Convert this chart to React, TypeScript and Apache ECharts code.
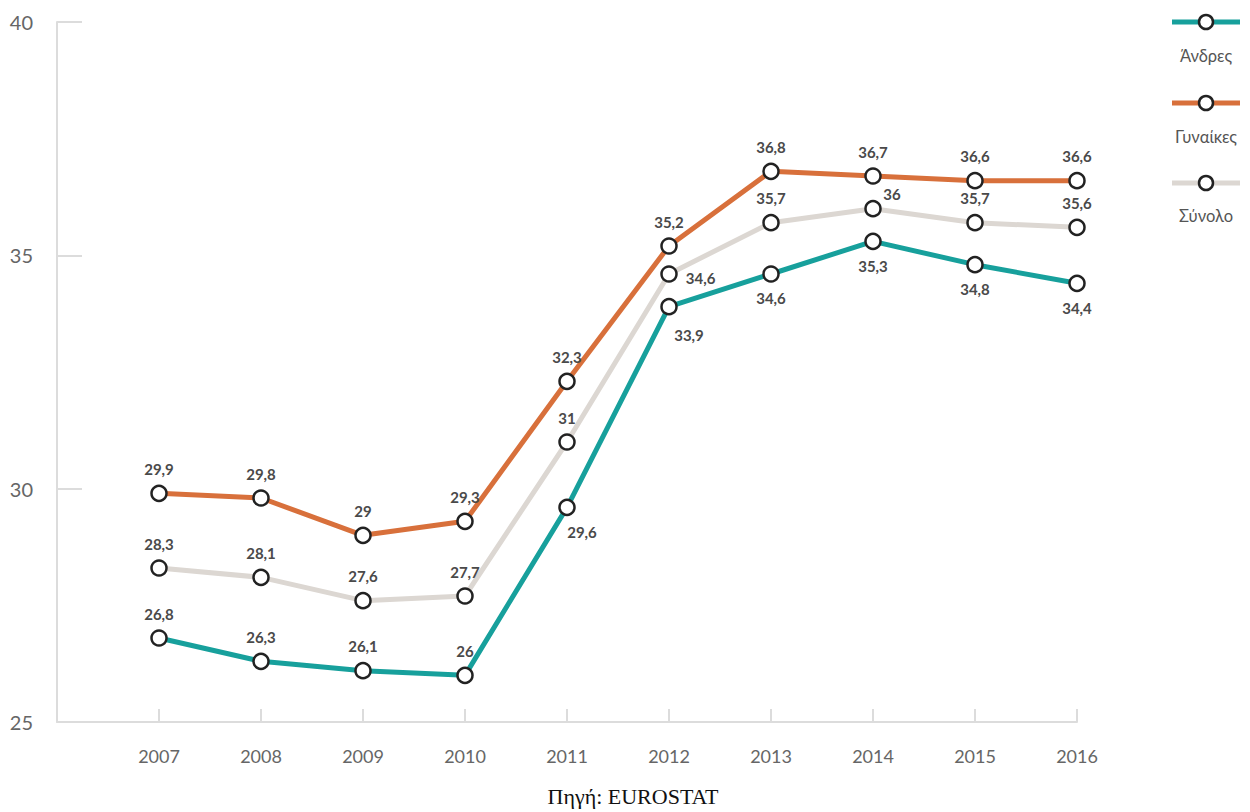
import React, { useEffect, useRef } from "react";
import * as echarts from "echarts";

const years = [2007, 2008, 2009, 2010, 2011, 2012, 2013, 2014, 2015, 2016];
const men = [26.8, 26.3, 26.1, 26, 29.6, 33.9, 34.6, 35.3, 34.8, 34.4];
const women = [29.9, 29.8, 29, 29.3, 32.3, 35.2, 36.8, 36.7, 36.6, 36.6];
const total = [28.3, 28.1, 27.6, 27.7, 31, 34.6, 35.7, 36, 35.7, 35.6];
const seriesNames = ["Άνδρες", "Γυναίκες", "Σύνολο"];
const yTicks = { min: 25, max: 40, interval: 5 };
const sourceText = "Πηγή: EUROSTAT";

const COLORS = ["#17a09c", "#d8703b", "#dcd7d2"];
const FONT = "Lato, 'Noto Sans', sans-serif";

// label placement overrides (layout only)
const menLabelPos: any[] = [
  null, null, null, null,
  { position: "bottom", offset: [15, 0] },
  { position: "bottom", offset: [20, 4] },
  { position: "bottom" },
  { position: "bottom" },
  { position: "bottom" },
  { position: "bottom" },
];
const totalLabelPos: any[] = [
  null, null, null, null, null,
  { position: "right", offset: [0, 4] },
  null,
  { position: "top", offset: [19, 10] },
  null, null,
];

function fmt(v: number) {
  return String(v).replace(".", ",");
}

function buildData(vals: number[], overrides: any[] | null) {
  return vals.map((v, i) => {
    const o = overrides ? overrides[i] : null;
    const item: any = { value: [years[i], v] };
    if (o) item.label = { ...o };
    return item;
  });
}

export default function App() {
  const ref = useRef<HTMLDivElement>(null);
  useEffect(() => {
    if (!ref.current) return;
    const chart = echarts.init(ref.current, null, { renderer: "svg" });
    const labelStyle = {
      show: true,
      position: "top",
      distance: 8,
      fontFamily: FONT,
      fontSize: 15,
      fontWeight: "bold",
      color: "#4a4a4a",
      formatter: (p: any) => fmt(p.value[1]),
    };
    const mk = (name: string, vals: number[], color: string, ov: any[] | null, z: number) => ({
      name,
      type: "line",
      data: buildData(vals, ov),
      symbol: "circle",
      symbolSize: 15,
      z,
      lineStyle: { color, width: 5 },
      itemStyle: { color: "#ffffff", borderColor: "#222222", borderWidth: 2.5 },
      label: labelStyle,
      emphasis: { disabled: true },
    });
    const legendY = [22, 103, 183];
    const legendTextY = [56, 137, 216];
    const graphics: any[] = [];
    seriesNames.forEach((n, i) => {
      graphics.push({
        type: "line",
        shape: { x1: 1172, y1: legendY[i], x2: 1240, y2: legendY[i] },
        style: { stroke: COLORS[i], lineWidth: 5 },
      });
      graphics.push({
        type: "circle",
        shape: { cx: 1206, cy: legendY[i], r: 7 },
        style: { fill: "#ffffff", stroke: "#222222", lineWidth: 2.5 },
      });
      graphics.push({
        type: "text",
        x: 1206,
        y: legendTextY[i],
        style: {
          text: n,
          fill: "#555555",
          font: `16.5px ${FONT}`,
          align: "center",
          verticalAlign: "middle",
        },
      });
    });
    graphics.push({
      type: "text",
      x: 633,
      y: 796,
      style: {
        text: sourceText,
        fill: "#111111",
        font: "22px 'Liberation Serif', 'DejaVu Serif', serif",
        align: "center",
        verticalAlign: "middle",
      },
    });
    chart.setOption({
      animation: false,
      grid: { left: 57, right: 173, top: 22, bottom: 90, containLabel: false },
      xAxis: {
        type: "value",
        min: 2006,
        max: 2016,
        interval: 1,
        splitLine: { show: false },
        axisLine: { show: true, lineStyle: { color: "#dcdcdc", width: 2 } },
        axisTick: { show: true, inside: true, length: 13, lineStyle: { color: "#dcdcdc", width: 2 } },
        axisLabel: {
          margin: 25,
          fontFamily: FONT,
          fontSize: 18,
          color: "#666666",
          formatter: (v: number) => (v === 2006 ? "" : String(v)),
        },
      },
      yAxis: {
        type: "value",
        min: yTicks.min,
        max: yTicks.max,
        interval: yTicks.interval,
        splitLine: { show: false },
        axisLine: { show: true, lineStyle: { color: "#dcdcdc", width: 2 } },
        axisTick: { show: true, inside: true, length: 25, lineStyle: { color: "#dcdcdc", width: 2 } },
        axisLabel: {
          margin: 24,
          fontFamily: FONT,
          fontSize: 20,
          color: "#666666",
        },
      },
      series: [
        mk(seriesNames[2], total, COLORS[2], totalLabelPos, 2),
        mk(seriesNames[0], men, COLORS[0], menLabelPos, 3),
        mk(seriesNames[1], women, COLORS[1], null, 4),
      ],
      graphic: graphics,
    });
    return () => chart.dispose();
  }, []);
  return (
    <div
      ref={ref}
      style={{ position: "fixed", left: 0, top: 0, width: 1250, height: 812, background: "#ffffff" }}
    />
  );
}
